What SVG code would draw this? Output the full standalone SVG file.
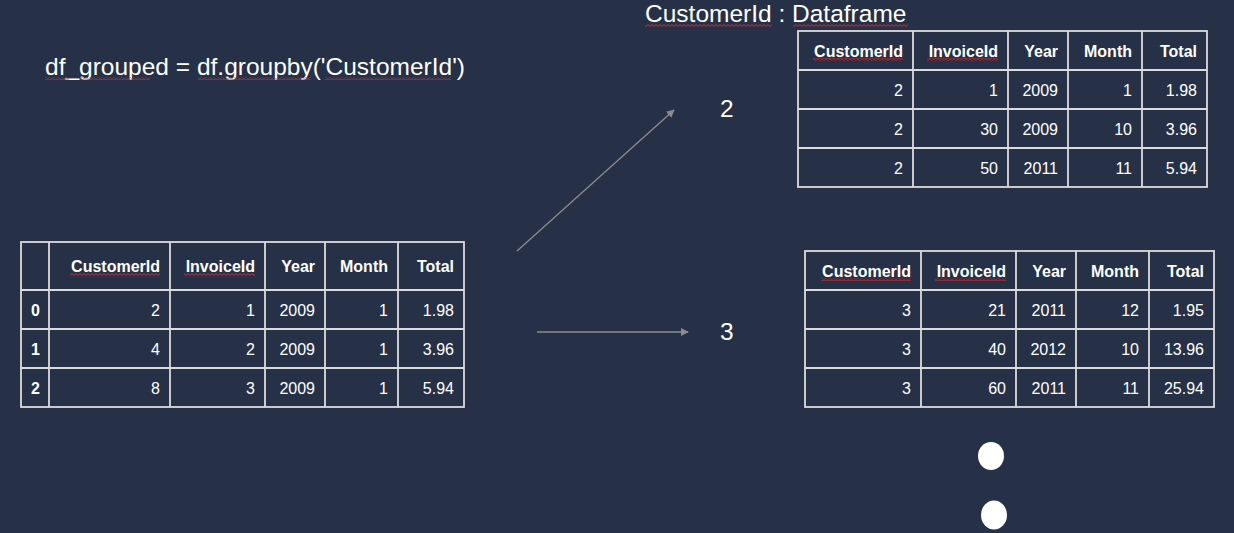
<svg xmlns="http://www.w3.org/2000/svg" width="1234" height="533" viewBox="0 0 1234 533">
<style>
text{font-family:"Liberation Sans",Arial,sans-serif;fill:#ffffff}
.h{font-size:16px;font-weight:bold;text-anchor:end}
.d{font-size:16px;text-anchor:end}
.ix{font-size:16px;font-weight:bold}
.big{font-size:24.5px}
.grid{stroke:#dcdcdc;stroke-width:1.8;fill:none}
.sq{fill:url(#squig)}
.conn{stroke:#8c8c8c;stroke-width:1.3;fill:none;marker-end:url(#ah)}
</style>
<defs>
<pattern id="squig" width="4" height="3" patternUnits="userSpaceOnUse">
<path d="M0 0.6 L2 2.4 L4 0.6" stroke="#e0302c" stroke-width="0.9" fill="none"/>
</pattern>
<marker id="ah" viewBox="0 0 10 10" refX="9" refY="5" markerWidth="8" markerHeight="8" markerUnits="userSpaceOnUse" orient="auto">
<path d="M0 0 L10 5 L0 10 Z" fill="#8c8c8c"/>
</marker>
</defs>
<rect width="1234" height="533" fill="#263047"/>

<g id="code-title">
<text class="big" x="45" y="75">df_grouped = df.groupby('CustomerId')</text>
<rect class="sq" x="45" y="77" width="24" height="3"/>
<rect class="sq" x="80" y="77" width="70" height="3"/>
<rect class="sq" x="198" y="77" width="113" height="3"/>
<rect class="sq" x="325" y="77" width="126" height="3"/>
</g>

<g id="result-title">
<text class="big" x="645" y="22">CustomerId : Dataframe</text>
<rect class="sq" x="645" y="24" width="127" height="3"/>
<rect class="sq" x="793" y="24" width="115" height="3"/>
</g>

<g id="source-table">
<rect class="grid" x="21" y="242" width="443" height="165"/>
<path class="grid" d="M49 242V407M170 242V407M265 242V407M325 242V407M398 242V407M21 290H464M21 329H464M21 368H464"/>
<text class="h" x="160" y="272">CustomerId</text>
<text class="h" x="255" y="272">InvoiceId</text>
<text class="h" x="315" y="272">Year</text>
<text class="h" x="388" y="272">Month</text>
<text class="h" x="454" y="272">Total</text>
<rect class="sq" x="70" y="273" width="90" height="3"/>
<rect class="sq" x="184" y="273" width="71" height="3"/>
<text class="ix" x="31" y="316">0</text>
<text class="d" x="160" y="316">2</text><text class="d" x="255" y="316">1</text><text class="d" x="315" y="316">2009</text><text class="d" x="388" y="316">1</text><text class="d" x="454" y="316">1.98</text>
<text class="ix" x="31" y="355">1</text>
<text class="d" x="160" y="355">4</text><text class="d" x="255" y="355">2</text><text class="d" x="315" y="355">2009</text><text class="d" x="388" y="355">1</text><text class="d" x="454" y="355">3.96</text>
<text class="ix" x="31" y="394">2</text>
<text class="d" x="160" y="394">8</text><text class="d" x="255" y="394">3</text><text class="d" x="315" y="394">2009</text><text class="d" x="388" y="394">1</text><text class="d" x="454" y="394">5.94</text>
</g>

<g id="group-2-table">
<rect class="grid" x="798" y="31" width="409" height="156"/>
<path class="grid" d="M913 31V187M1008 31V187M1068 31V187M1142 31V187M798 70H1207M798 109H1207M798 148H1207"/>
<text class="h" x="903" y="57">CustomerId</text>
<text class="h" x="998" y="57">InvoiceId</text>
<text class="h" x="1058" y="57">Year</text>
<text class="h" x="1132" y="57">Month</text>
<text class="h" x="1197" y="57">Total</text>
<rect class="sq" x="813" y="58" width="90" height="3"/>
<rect class="sq" x="927" y="58" width="71" height="3"/>
<text class="d" x="903" y="96">2</text><text class="d" x="998" y="96">1</text><text class="d" x="1058" y="96">2009</text><text class="d" x="1132" y="96">1</text><text class="d" x="1197" y="96">1.98</text>
<text class="d" x="903" y="135">2</text><text class="d" x="998" y="135">30</text><text class="d" x="1058" y="135">2009</text><text class="d" x="1132" y="135">10</text><text class="d" x="1197" y="135">3.96</text>
<text class="d" x="903" y="174">2</text><text class="d" x="998" y="174">50</text><text class="d" x="1058" y="174">2011</text><text class="d" x="1132" y="174">11</text><text class="d" x="1197" y="174">5.94</text>
</g>

<g id="group-3-table">
<rect class="grid" x="805" y="251" width="409" height="156"/>
<path class="grid" d="M921 251V407M1016 251V407M1076 251V407M1149 251V407M805 290H1214M805 329H1214M805 368H1214"/>
<text class="h" x="911" y="277">CustomerId</text>
<text class="h" x="1006" y="277">InvoiceId</text>
<text class="h" x="1066" y="277">Year</text>
<text class="h" x="1139" y="277">Month</text>
<text class="h" x="1204" y="277">Total</text>
<rect class="sq" x="821" y="278" width="90" height="3"/>
<rect class="sq" x="935" y="278" width="71" height="3"/>
<text class="d" x="911" y="316">3</text><text class="d" x="1006" y="316">21</text><text class="d" x="1066" y="316">2011</text><text class="d" x="1139" y="316">12</text><text class="d" x="1204" y="316">1.95</text>
<text class="d" x="911" y="355">3</text><text class="d" x="1006" y="355">40</text><text class="d" x="1066" y="355">2012</text><text class="d" x="1139" y="355">10</text><text class="d" x="1204" y="355">13.96</text>
<text class="d" x="911" y="394">3</text><text class="d" x="1006" y="394">60</text><text class="d" x="1066" y="394">2011</text><text class="d" x="1139" y="394">11</text><text class="d" x="1204" y="394">25.94</text>
</g>

<g id="label-2"><text class="big" x="720" y="117">2</text></g>
<g id="label-3"><text class="big" x="720" y="340">3</text></g>

<g id="ellipsis">
<ellipse cx="991" cy="456" rx="13" ry="14" fill="#ffffff"/>
<ellipse cx="994" cy="515" rx="13" ry="14.5" fill="#ffffff"/>
</g>

<g id="connectors">
<path class="conn" d="M517 251L674 110"/>
<path class="conn" d="M537 332H688"/>
</g>
</svg>
